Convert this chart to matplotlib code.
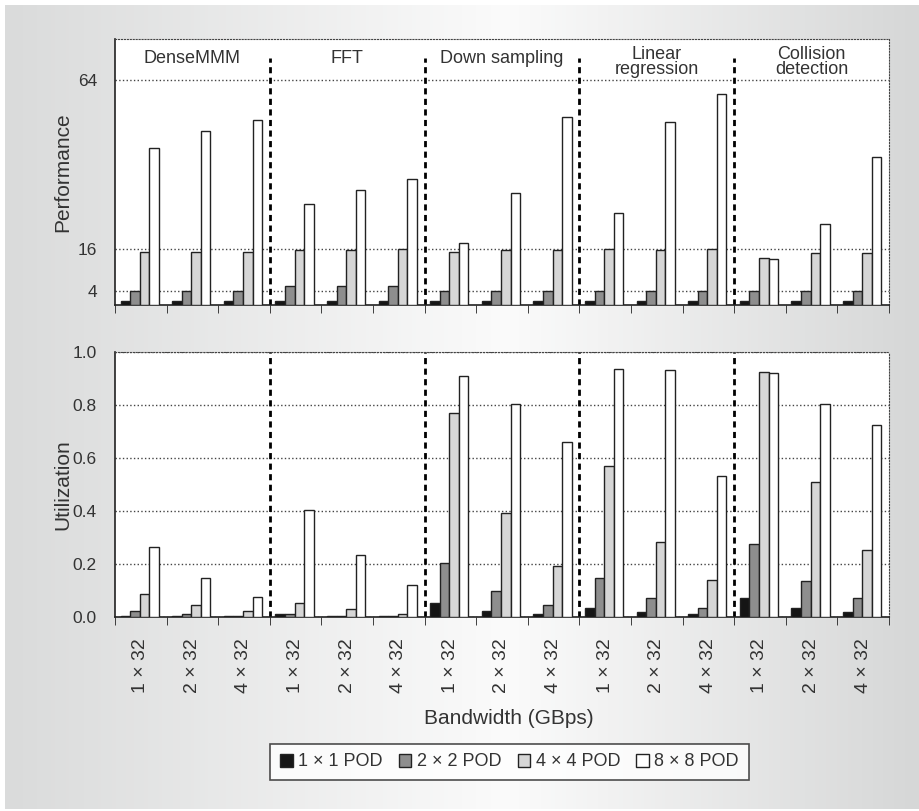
import numpy as np
import matplotlib
matplotlib.use("Agg")
import matplotlib.pyplot as plt
from matplotlib.colors import LinearSegmentedColormap
from matplotlib.patches import Patch

plt.rcParams['font.family'] = ['Liberation Sans', 'DejaVu Sans']
plt.rcParams['text.color'] = '#333333'
plt.rcParams['axes.labelcolor'] = '#333333'
plt.rcParams['xtick.color'] = '#333333'
plt.rcParams['ytick.color'] = '#333333'

# benchmark groups and bandwidth settings
apps = ['DenseMMM', 'FFT', 'Down sampling', 'Linear\nregression', 'Collision\ndetection']
bandwidths = ['1 × 32', '2 × 32', '4 × 32']
pods = ['1 × 1 POD', '2 × 2 POD', '4 × 4 POD', '8 × 8 POD']

# performance (top panel), 15 values = 5 apps x 3 bandwidths
perf_1x1 = [1.1, 1.1, 1.1, 1.1, 1.1, 1.1, 1.1, 1.1, 1.1, 1.1, 1.1, 1.1, 1.1, 1.1, 1.1]
perf_2x2 = [4.1, 4.1, 4.1, 5.5, 5.5, 5.5, 4.1, 4.1, 4.1, 4.1, 4.1, 4.1, 4.1, 4.1, 4.1]
perf_4x4 = [15.2, 15.2, 15.2, 15.7, 15.7, 16.1, 15.2, 15.7, 15.7, 16.1, 15.7, 16.1, 13.5, 14.7, 14.7]
perf_8x8 = [44.8, 49.6, 52.8, 28.9, 32.8, 36.0, 17.7, 32.0, 53.6, 26.3, 52.2, 60.2, 13.0, 23.1, 42.3]

# utilization (bottom panel)
util_1x1 = [0.005, 0.003, 0.002, 0.013, 0.004, 0.004, 0.054, 0.024, 0.013, 0.035, 0.018, 0.013, 0.072, 0.035, 0.018]
util_2x2 = [0.024, 0.011, 0.005, 0.012, 0.004, 0.002, 0.204, 0.098, 0.047, 0.147, 0.071, 0.035, 0.274, 0.134, 0.071]
util_4x4 = [0.088, 0.047, 0.024, 0.053, 0.030, 0.012, 0.768, 0.392, 0.193, 0.569, 0.282, 0.140, 0.925, 0.508, 0.252]
util_8x8 = [0.263, 0.147, 0.077, 0.404, 0.234, 0.122, 0.908, 0.803, 0.660, 0.937, 0.931, 0.532, 0.920, 0.803, 0.726]

colors = ['#151515', '#8e8e8e', '#d6d6d6', '#ffffff']

fig = plt.figure(figsize=(9.19, 8.11), dpi=100, facecolor='white')

# gradient backdrop
bg = fig.add_axes([5 / 919, 2 / 811, 914 / 919, 804 / 811], zorder=-10)
cmap = LinearSegmentedColormap.from_list('bg', [(0, '#dadbdb'), (0.55, '#fbfbfb'), (1, '#d6d7d7')])
bg.imshow(np.linspace(0, 1, 256)[None, :], aspect='auto', cmap=cmap, extent=[0, 1, 0, 1])
bg.axis('off')

ax1 = fig.add_axes([115 / 919, 1 - 305 / 811, 774 / 919, 266 / 811])
ax2 = fig.add_axes([115 / 919, 1 - 617 / 811, 774 / 919, 265 / 811])

n = len(apps) * len(bandwidths)
x = np.arange(n) + 0.5
w = 0.185
offsets = (np.arange(4) - 1.5) * w - 0.02


def style(ax, ymax, vtop):
    ax.set_xlim(0, n)
    ax.set_ylim(0, ymax)
    ax.set_facecolor('white')
    for s in ['top', 'right']:
        ax.spines[s].set_linestyle(':')
        ax.spines[s].set_color('#444444')
    for s in ['left', 'bottom']:
        ax.spines[s].set_color('#222222')
        ax.spines[s].set_linewidth(1.2)
    ax.yaxis.grid(True, linestyle=':', color='#444444', linewidth=1)
    ax.set_axisbelow(True)
    ax.set_xticks(np.arange(n + 1), minor=True)
    ax.tick_params(axis='x', which='minor', length=6, direction='out', color='#222222')
    ax.tick_params(axis='x', which='major', length=0)
    ax.tick_params(axis='y', length=0, labelsize=12.5, pad=13)
    for b in [3, 6, 9, 12]:
        ax.plot([b, b], [0, vtop], color='black', linestyle=(0, (2.2, 1.6)), linewidth=2, zorder=1)


for ax, series in [(ax1, [perf_1x1, perf_2x2, perf_4x4, perf_8x8]),
                   (ax2, [util_1x1, util_2x2, util_4x4, util_8x8])]:
    for k, vals in enumerate(series):
        ax.bar(x + offsets[k], vals, width=w, color=colors[k], edgecolor='#222222',
               linewidth=1, zorder=3, label=pods[k])

style(ax1, 75.8, 70.4)
ax1.set_yticks([4, 16, 64])
ax1.set_xticks(x)
ax1.set_xticklabels([])
ax1.set_ylabel('Performance', fontsize=15)
ax1.yaxis.set_label_coords(-0.055, 0.5)
for i, name in enumerate(apps):
    yy = 69.3 if '\n' in name else 70.2
    ax1.text(3 * i + 1.5, yy, name, ha='center', va='center', fontsize=13, linespacing=0.85)

style(ax2, 1.0, 1.0)
ax2.set_yticks([0.0, 0.2, 0.4, 0.6, 0.8, 1.0])
ax2.set_yticklabels(['0.0', '0.2', '0.4', '0.6', '0.8', '1.0'])
ax2.set_xticks(x)
ax2.set_xticklabels(bandwidths * len(apps), rotation=90, fontsize=14)
ax2.tick_params(axis='x', which='major', pad=15)
ax2.set_ylabel('Utilization', fontsize=15)
ax2.yaxis.set_label_coords(-0.055, 0.5)

fig.text(509 / 919, 1 - 718 / 811, 'Bandwidth (GBps)', ha='center', va='center', fontsize=15)

handles = [Patch(facecolor=c, edgecolor='#222222', linewidth=1) for c in colors]
leg = fig.legend(handles, pods, loc='center', bbox_to_anchor=(509.5 / 919, 1 - 762 / 811),
                 ncol=4, fontsize=13, frameon=True, fancybox=False, handlelength=0.7,
                 handleheight=0.7, handletextpad=0.3, columnspacing=0.9, borderpad=0.55)
leg.get_frame().set_edgecolor('#222222')
leg.get_frame().set_linewidth(1.2)

fig.savefig('out.png', dpi=100, facecolor=fig.get_facecolor())
